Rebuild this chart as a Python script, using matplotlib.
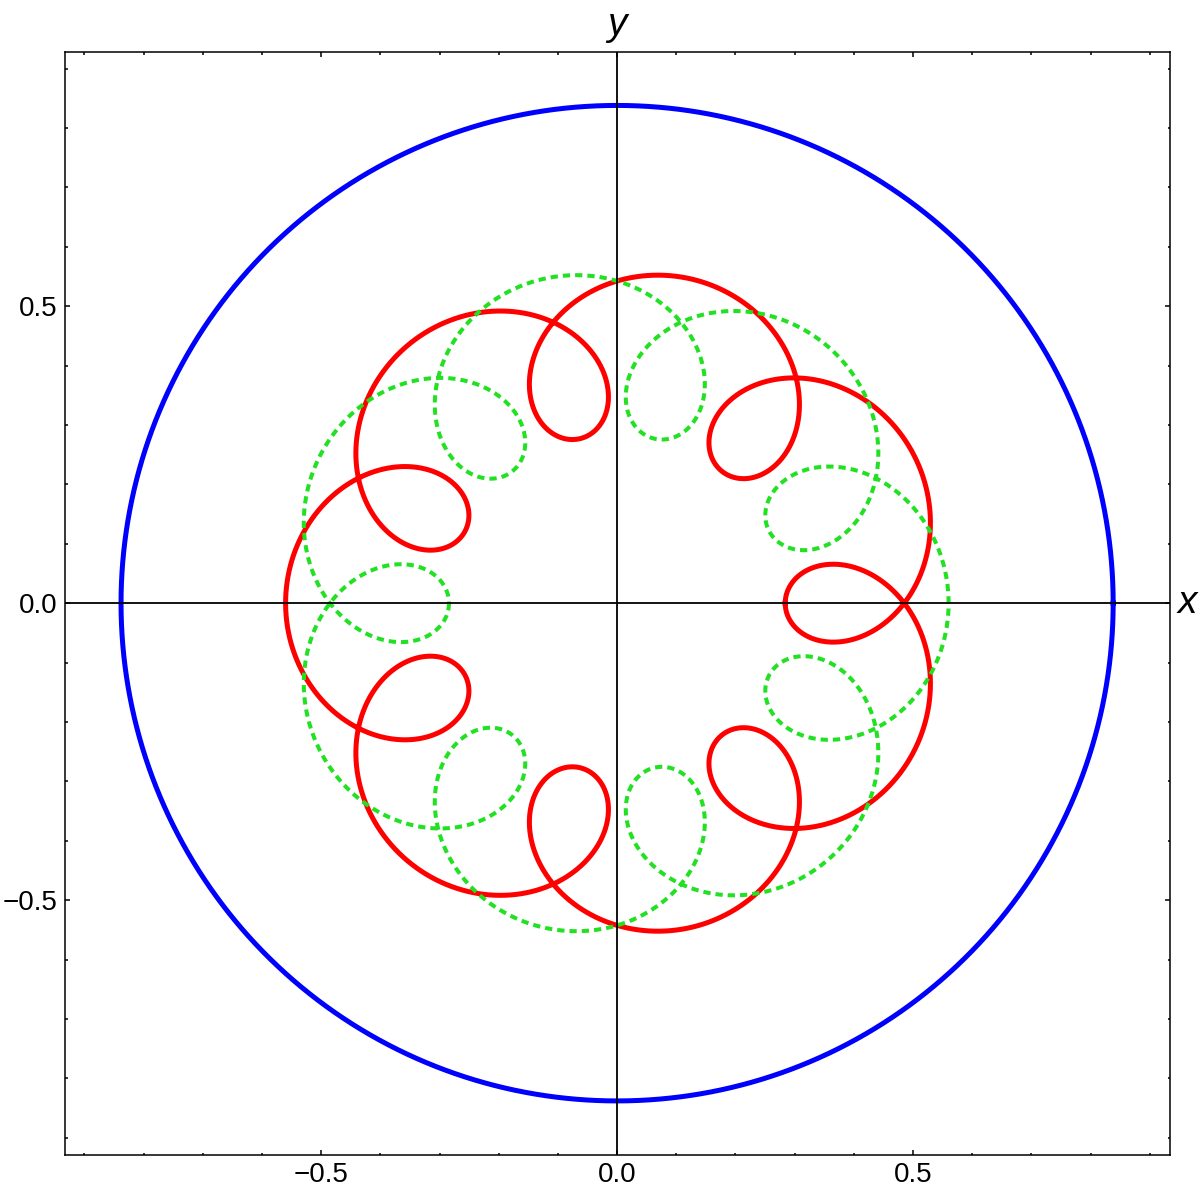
import numpy as np
import matplotlib.pyplot as plt

# values
outer_radius = 0.838     # blue circle
center_radius = 0.422    # radius of the deferent circle
loop_radius = 0.138      # radius of the epicycle
n_loops = 7
x_limits = [-0.933, 0.934]
y_limits = [-0.929, 0.928]
major_ticks = [-0.5, 0.0, 0.5]
major_labels = ["\u22120.5", "0.0", "0.5"]

t = np.linspace(0, 2*np.pi, 3000)
red_x = center_radius*np.cos(t) - loop_radius*np.cos((n_loops+1)*t)
red_y = center_radius*np.sin(t) - loop_radius*np.sin((n_loops+1)*t)
green_x = -red_x
green_y = red_y

plt.rcParams['font.family'] = ['Liberation Sans', 'DejaVu Sans']

fig = plt.figure(figsize=(12, 11.95), dpi=100)
ax = fig.add_axes([0.054, 0.0335, 0.921, 0.923])

ax.plot(outer_radius*np.cos(t), outer_radius*np.sin(t), color="#0000ff", lw=3.6, zorder=2)
ax.plot(red_x, red_y, color="#ff0000", lw=3.6, zorder=3)
ax.plot(green_x, green_y, color="#22e022", lw=2.9, linestyle=(0, (1.8, 1.25)),
        dash_capstyle="butt", zorder=4)

ax.axhline(0, color="black", lw=1.3, zorder=5)
ax.axvline(0, color="black", lw=1.3, zorder=5)

ax.set_xlim(x_limits)
ax.set_ylim(y_limits)

ax.set_xticks(major_ticks)
ax.set_xticklabels(major_labels)
ax.set_yticks(major_ticks)
ax.set_yticklabels(major_labels)
minor = np.round(np.arange(-0.9, 0.91, 0.1), 2)
ax.set_xticks(minor, minor=True)
ax.set_yticks(minor, minor=True)
ax.tick_params(which="both", direction="in", top=True, right=True, width=1.1, labelsize=20)
ax.tick_params(which="major", length=3.5, pad=5)
ax.tick_params(which="minor", length=1.8)

for s in ax.spines.values():
    s.set_linewidth(1.1)

ax.text(0.963, 0, "x", fontsize=28, style="italic", ha="center", va="center", clip_on=False)
ax.text(0, 0.973, "y", fontsize=28, style="italic", ha="center", va="center", clip_on=False)

fig.savefig("out.png", dpi=100)
